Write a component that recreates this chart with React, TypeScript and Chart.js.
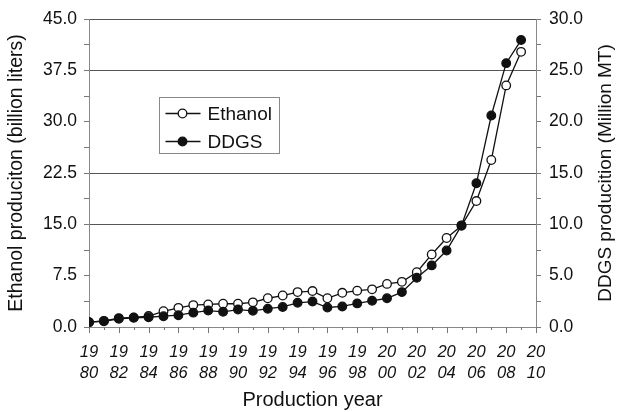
import React, { useEffect, useRef } from "react";
import { Chart, registerables } from "chart.js";

Chart.register(...registerables);

const years = [1980, 1981, 1982, 1983, 1984, 1985, 1986, 1987, 1988, 1989, 1990, 1991, 1992, 1993, 1994, 1995, 1996, 1997, 1998, 1999, 2000, 2001, 2002, 2003, 2004, 2005, 2006, 2007, 2008, 2009];
const ethanol = [0.7, 0.9, 1.3, 1.4, 1.6, 2.3, 2.8, 3.2, 3.3, 3.4, 3.4, 3.6, 4.2, 4.6, 5.1, 5.25, 4.2, 5.0, 5.3, 5.5, 6.3, 6.6, 8.0, 10.6, 13.0, 14.8, 18.4, 24.4, 35.3, 40.2];
const ddgs = [0.47, 0.56, 0.8, 0.9, 0.95, 1.05, 1.15, 1.4, 1.6, 1.48, 1.7, 1.58, 1.78, 1.95, 2.36, 2.48, 1.9, 2.0, 2.3, 2.55, 2.8, 3.4, 4.8, 6.0, 7.45, 9.9, 14.0, 20.6, 25.7, 27.95];

const leftTicks = [0, 7.5, 15, 22.5, 30, 37.5, 45];
const rightTicks = [0, 5, 10, 15, 20, 25, 30];
const gridValues = [15, 22.5, 37.5, 45];
const rightTitle = "DDGS producition (Million MT)";

const FONT = "'Liberation Sans', Arial, sans-serif";

const near = (v: number, list: number[]) => list.some((t) => Math.abs(v - t) < 1e-6);

const xTickPlugin = {
  id: "xTickPlugin",
  afterDraw(chart: any) {
    const x = chart.scales.x;
    const ctx = chart.ctx;
    ctx.save();
    ctx.strokeStyle = "#777";
    ctx.lineWidth = 1;
    for (let y = 1980; y <= 2010; y++) {
      const px = Math.round(x.getPixelForValue(y)) + 0.5;
      const len = y % 2 === 0 ? 6 : 3;
      ctx.beginPath();
      ctx.moveTo(px, x.top);
      ctx.lineTo(px, x.top + len);
      ctx.stroke();
    }
    ctx.restore();
  },
};

const rightTitlePlugin = {
  id: "rightTitle",
  afterDraw(chart: any) {
    const ctx = chart.ctx;
    const area = chart.chartArea;
    ctx.save();
    ctx.translate(chart.width - 11, (area.top + area.bottom) / 2);
    ctx.rotate(-Math.PI / 2);
    ctx.fillStyle = "#111";
    ctx.font = `19px ${FONT}`;
    ctx.textAlign = "center";
    ctx.textBaseline = "middle";
    ctx.fillText(rightTitle, 0, 0);
    ctx.restore();
  },
};

const legendPlugin = {
  id: "legendBox",
  afterDraw(chart: any) {
    const ctx = chart.ctx;
    const area = chart.chartArea;
    const bx = Math.round(area.left + 70) + 0.5;
    const by = Math.round(area.top + 78) + 0.5;
    const w = 120;
    const h = 56;
    ctx.save();
    ctx.fillStyle = "#fff";
    ctx.fillRect(bx, by, w, h);
    ctx.strokeStyle = "#888";
    ctx.lineWidth = 1;
    ctx.strokeRect(bx, by, w, h);
    const rows = [chart.data.datasets[0], chart.data.datasets[1]];
    rows.forEach((ds: any, i: number) => {
      const ry = by + 16 + i * 28;
      ctx.strokeStyle = ds.borderColor;
      ctx.lineWidth = ds.borderWidth;
      ctx.beginPath();
      ctx.moveTo(bx + 6, ry);
      ctx.lineTo(bx + 41, ry);
      ctx.stroke();
      ctx.beginPath();
      ctx.arc(bx + 23, ry, ds.pointRadius, 0, Math.PI * 2);
      ctx.fillStyle = ds.pointBackgroundColor;
      ctx.fill();
      ctx.lineWidth = ds.pointBorderWidth;
      ctx.strokeStyle = ds.pointBorderColor;
      ctx.stroke();
      ctx.fillStyle = "#111";
      ctx.font = `19px ${FONT}`;
      ctx.textBaseline = "middle";
      ctx.textAlign = "left";
      ctx.fillText(ds.label, bx + 48, ry + 1);
    });
    ctx.restore();
  },
};

export default function App() {
  const ref = useRef<HTMLCanvasElement | null>(null);

  useEffect(() => {
    if (!ref.current) return;
    const chart = new Chart(ref.current, {
      type: "line",
      data: {
        datasets: [
          {
            label: "Ethanol",
            data: years.map((y, i) => ({ x: y, y: ethanol[i] })),
            yAxisID: "y",
            order: 1,
            borderColor: "#111",
            borderWidth: 1.3,
            pointRadius: 4.3,
            pointBackgroundColor: "#fff",
            pointBorderColor: "#111",
            pointBorderWidth: 1.3,
            tension: 0,
          },
          {
            label: "DDGS",
            data: years.map((y, i) => ({ x: y, y: ddgs[i] })),
            yAxisID: "y1",
            order: 0,
            borderColor: "#111",
            borderWidth: 1.3,
            pointRadius: 4.3,
            pointBackgroundColor: "#111",
            pointBorderColor: "#111",
            pointBorderWidth: 1.3,
            tension: 0,
          },
        ],
      },
      options: {
        animation: false,
        responsive: true,
        maintainAspectRatio: false,
        layout: { padding: { top: 19, left: 0, right: 0, bottom: 0 } },
        plugins: {
          legend: { display: false },
          tooltip: { enabled: false },
        },
        scales: {
          x: {
            type: "linear",
            position: "bottom",
            min: 1980,
            max: 2010,
            afterFit: (s: any) => {
              s.height = 85;
            },
            ticks: {
              stepSize: 1,
              autoSkip: false,
              maxRotation: 0,
              minRotation: 0,
              padding: 15,
              color: "#111",
              font: { family: FONT, size: 16.5, style: "italic", lineHeight: 1.25 },
              callback: (v: any) => {
                const n = Math.round(Number(v));
                if (n % 2 !== 0) return "";
                const s = String(n);
                return [s.slice(0, 2), s.slice(2)];
              },
            },
            grid: { drawOnChartArea: false, drawTicks: false },
            border: { display: true, color: "#888", width: 1 },
            title: {
              display: true,
              text: "Production year",
              color: "#111",
              font: { family: FONT, size: 20 },
              padding: { top: 0, bottom: 0 },
            },
          },
          y: {
            position: "left",
            min: 0,
            max: 45,
            afterFit: (s: any) => {
              s.width = 89;
            },
            ticks: {
              stepSize: 3.75,
              autoSkip: false,
              padding: 7,
              color: "#111",
              font: { family: FONT, size: 17.5 },
              callback: (v: any) => (near(Number(v), leftTicks) ? Number(v).toFixed(1) : ""),
            },
            grid: {
              color: (c: any) => (c.tick && near(c.tick.value, gridValues) ? "#555" : "rgba(0,0,0,0)"),
              tickColor: "#777",
              tickLength: 5,
              lineWidth: 1,
            },
            border: { display: true, color: "#888", width: 1 },
            title: {
              display: true,
              text: "Ethanol produciton (billion liters)",
              color: "#111",
              font: { family: FONT, size: 19.5 },
              padding: { top: 5, bottom: 0 },
            },
          },
          y1: {
            position: "right",
            min: 0,
            max: 30,
            afterFit: (s: any) => {
              s.width = 81;
            },
            ticks: {
              stepSize: 2.5,
              autoSkip: false,
              padding: 8,
              color: "#111",
              font: { family: FONT, size: 17.5 },
              callback: (v: any) => (near(Number(v), rightTicks) ? Number(v).toFixed(1) : ""),
            },
            grid: {
              drawOnChartArea: false,
              tickColor: "#777",
              tickLength: 5,
            },
            border: { display: true, color: "#888", width: 1 },
            title: { display: false },
          },
        },
      },
      plugins: [xTickPlugin, legendPlugin, rightTitlePlugin],
    });
    return () => chart.destroy();
  }, []);

  return (
    <div style={{ position: "fixed", left: 0, top: 0, width: 617, height: 412, background: "#fff" }}>
      <canvas ref={ref} />
    </div>
  );
}
